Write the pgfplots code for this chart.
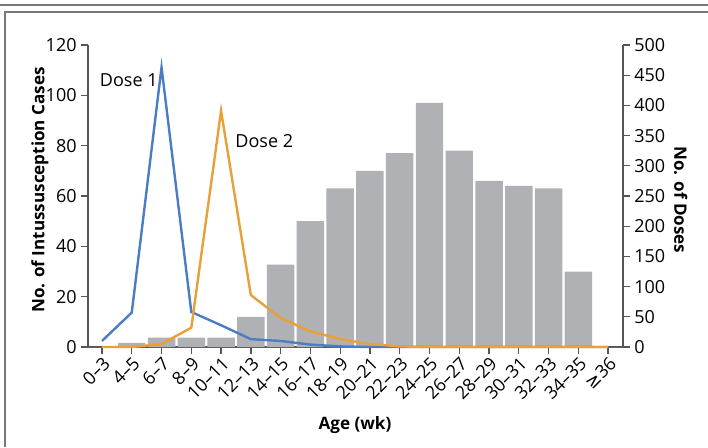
\documentclass[border=0pt]{standalone}
\usepackage{fontspec}
\setmainfont{Open Sans}
\newfontfamily\dejavu{DejaVu Sans}
\usepackage{pgfplots}
\pgfplotsset{compat=1.18}
\definecolor{doseblue}{RGB}{74,125,196}
\definecolor{doseorange}{RGB}{232,160,55}
\definecolor{bargray}{RGB}{176,177,181}
\definecolor{axgray}{RGB}{85,85,85}
\definecolor{framegray}{RGB}{120,120,120}
\begin{document}
\begin{tikzpicture}
% 1px = 0.75pt ; picture 708x447 px
\path[use as bounding box] (0,0) rectangle (531pt,-335.25pt);
\draw[framegray, line width=1.6pt] (0,-3.75pt) -- (531pt,-3.75pt);
\draw[framegray, line width=1.2pt] (3.75pt,-335.25pt) -- (3.75pt,-9pt) -- (531pt,-9pt);

\pgfplotsset{
  common/.style={
    scale only axis, width=401.25pt, height=226.5pt,
    at={(66pt,-260.25pt)}, anchor=south west,
    xmin=-0.47, xmax=17.5,
    font=\fontsize{13.5}{15}\selectfont,
    /pgf/number format/assume math mode=true,
    axis line style={axgray, line width=1pt},
    tick style={axgray, line width=1pt},
    major tick length=5pt,
    tick align=outside,
  }
}

\begin{axis}[common,
  axis y line*=left, axis x line*=bottom,
  ymin=0, ymax=120, ytick={0,20,...,120},
  xtick={0,...,17},
  xticklabels={0–3,4–5,6–7,8–9,10–11,12–13,14–15,16–17,18–19,20–21,22–23,24–25,26–27,28–29,30–31,32–33,34–35,{{\dejavu ≥}36}},
  x tick label style={rotate=45, anchor=north east, inner sep=1pt},
  ylabel={\bfseries No. of Intussusception Cases},
  ylabel style={at={(axis description cs:-0.09,0.52)}, anchor=center, font=\fontsize{12.8}{15}\selectfont},
  xlabel={\bfseries Age (wk)},
  xlabel style={at={(axis description cs:0.499,-0.258)}, anchor=center, font=\fontsize{12.8}{15}\selectfont},
  clip=false,
]
\addplot[ybar, bar width=20.6pt, fill=bargray, draw=none] coordinates {
  (0,0) (1,1.6) (2,3.7) (3,3.7) (4,3.7) (5,12) (6,32.7) (7,50) (8,63)
  (9,70) (10,77) (11,97) (12,78) (13,66) (14,64) (15,63) (16,30) (17,0)
};
\node at (axis cs:0.9,106) {Dose 1};
\node at (axis cs:5.45,81.8) {Dose 2};
\end{axis}

\begin{axis}[common,
  axis y line*=right, axis x line=none,
  ymin=0, ymax=500, ytick={0,50,...,500},
  ylabel={\bfseries No. of Doses},
  ylabel style={at={(axis description cs:1.108,0.487)}, anchor=center, rotate=180, font=\fontsize{12.8}{15}\selectfont},
  clip=false,
]
\addplot[doseblue, line width=1.8pt] coordinates {
  (0,10) (1,57) (2,463) (3,58) (4,36) (5,13) (6,10) (7,4) (8,1) (9,0)
  (10,0) (11,0) (12,0) (13,0) (14,0) (15,0) (16,0) (17,0)
};
\addplot[doseorange, line width=1.8pt] coordinates {
  (0,0) (1,0) (2,5) (3,32) (4,391) (5,86) (6,48) (7,26) (8,13) (9,5)
  (10,1) (11,0) (12,0) (13,0) (14,0) (15,0) (16,0) (17,0)
};
\end{axis}
\end{tikzpicture}
\end{document}
